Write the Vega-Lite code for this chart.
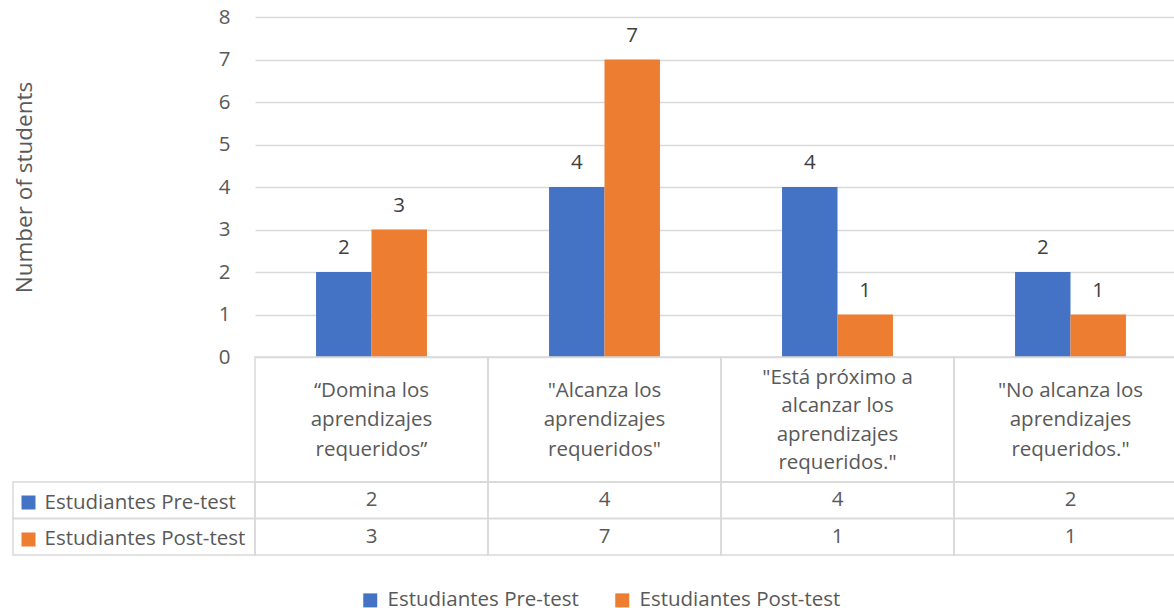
{
  "$schema": "https://vega.github.io/schema/vega-lite/v6.json",
  "padding": {"left": 12, "top": 7, "right": 0, "bottom": 0},
  "background": "white",
  "datasets": {
    "main": [
      {"categoria": "“Domina  los\naprendizajes\nrequeridos”", "serie": "Estudiantes Pre-test", "valor": 2},
      {"categoria": "“Domina  los\naprendizajes\nrequeridos”", "serie": "Estudiantes Post-test", "valor": 3},
      {"categoria": "\"Alcanza  los\naprendizajes\nrequeridos\"", "serie": "Estudiantes Pre-test", "valor": 4},
      {"categoria": "\"Alcanza  los\naprendizajes\nrequeridos\"", "serie": "Estudiantes Post-test", "valor": 7},
      {"categoria": "\"Está próximo a\nalcanzar los\naprendizajes\nrequeridos.\"", "serie": "Estudiantes Pre-test", "valor": 4},
      {"categoria": "\"Está próximo a\nalcanzar los\naprendizajes\nrequeridos.\"", "serie": "Estudiantes Post-test", "valor": 1},
      {"categoria": "\"No alcanza los\naprendizajes\nrequeridos.\"", "serie": "Estudiantes Pre-test", "valor": 2},
      {"categoria": "\"No alcanza los\naprendizajes\nrequeridos.\"", "serie": "Estudiantes Post-test", "valor": 1}
    ]
  },
  "columns": 2,
  "spacing": 0,
  "bounds": "flush",
  "concat": [
    {
      "width": 242, "height": 340,
      "data": {"values": []},
      "mark": {"type": "text", "text": ""},
      "encoding": {}
    },
    {
      "width": 932, "height": 340,
      "data": {"name": "main"},
      "encoding": {
        "x": {"field": "categoria", "type": "nominal", "sort": null, "axis": null,
              "scale": {"paddingInner": 0.524, "paddingOuter": 0.262}},
        "xOffset": {"field": "serie", "type": "nominal", "sort": ["Estudiantes Pre-test", "Estudiantes Post-test"],
                    "scale": {"paddingInner": 0, "paddingOuter": 0}},
        "y": {"field": "valor", "type": "quantitative",
              "scale": {"domain": [0, 8], "nice": false},
              "axis": {"values": [0, 1, 2, 3, 4, 5, 6, 7, 8], "title": "Number of students",
                       "grid": true, "gridColor": "#d9d9d9", "gridWidth": 1.5,
                       "domain": false, "ticks": false, "labelPadding": 25,
                       "labelFontSize": 20.5, "labelColor": "#595959",
                       "titleFontSize": 22.5, "titleColor": "#595959", "titleFontWeight": "normal",
                       "titlePadding": 182}}
      },
      "layer": [
        {
          "mark": {"type": "bar"},
          "encoding": {
            "color": {"field": "serie", "type": "nominal", "sort": ["Estudiantes Pre-test", "Estudiantes Post-test"],
                      "scale": {"range": ["#4472C4", "#ED7D31"]},
                      "legend": {"orient": "bottom", "direction": "horizontal", "title": null,
                                 "symbolType": "square", "symbolSize": 196, "symbolStrokeWidth": 0,
                                 "labelFontSize": 20.5, "labelColor": "#595959", "labelLimit": 0,
                                 "columnPadding": 33, "labelOffset": 7, "offset": 34}}
          }
        },
        {
          "mark": {"type": "text", "baseline": "alphabetic", "dy": -18, "fontSize": 20.5, "color": "#404040"},
          "encoding": {"text": {"field": "valor", "type": "quantitative"}}
        }
      ]
    },
    {
      "width": 242, "height": 125,
      "data": {"values": []},
      "mark": {"type": "text", "text": ""},
      "encoding": {}
    },
    {
      "width": 932, "height": 125,
      "data": {"name": "main"},
      "transform": [{"filter": "datum.serie === 'Estudiantes Pre-test'"}],
      "encoding": {
        "x": {"field": "categoria", "type": "nominal", "sort": null, "axis": null,
              "scale": {"paddingInner": 0, "paddingOuter": 0}}
      },
      "layer": [
        {"mark": {"type": "rect", "filled": false, "stroke": "#d9d9d9", "strokeWidth": 1.5}},
        {
          "transform": [{"filter": "indexof(datum.categoria, 'próximo') < 0"}],
          "mark": {"type": "text", "lineBreak": "\n", "fontSize": 20.5, "lineHeight": 29.5,
                   "color": "#595959", "baseline": "middle", "dy": -29},
          "encoding": {"text": {"field": "categoria", "type": "nominal"}}
        },
        {
          "transform": [{"filter": "indexof(datum.categoria, 'próximo') >= 0"}],
          "mark": {"type": "text", "lineBreak": "\n", "fontSize": 20.5, "lineHeight": 28.5,
                   "color": "#595959", "baseline": "middle", "dy": -42},
          "encoding": {"text": {"field": "categoria", "type": "nominal"}}
        }
      ]
    },
    {
      "width": 242, "height": 73,
      "data": {"name": "main"},
      "transform": [{"aggregate": [{"op": "count", "as": "n"}], "groupby": ["serie"]}],
      "encoding": {
        "y": {"field": "serie", "type": "nominal", "sort": ["Estudiantes Pre-test", "Estudiantes Post-test"],
              "scale": {"paddingInner": 0, "paddingOuter": 0},
              "axis": {"orient": "left", "offset": -22, "title": null, "domain": false, "grid": false,
                       "ticks": true, "tickSize": 14, "tickWidth": 14, "tickOffset": 2,
                       "tickColor": {"condition": {"test": "datum.value === 'Estudiantes Pre-test'", "value": "#4472C4"}, "value": "#ED7D31"},
                       "labelAlign": "left", "labelPadding": -23, "labelFontSize": 20.5,
                       "labelColor": "#595959", "labelLimit": 0}}
      },
      "mark": {"type": "rect", "filled": false, "stroke": "#d9d9d9", "strokeWidth": 1.5}
    },
    {
      "width": 932, "height": 73,
      "data": {"name": "main"},
      "encoding": {
        "x": {"field": "categoria", "type": "nominal", "sort": null, "axis": null,
              "scale": {"paddingInner": 0, "paddingOuter": 0}},
        "y": {"field": "serie", "type": "nominal", "sort": ["Estudiantes Pre-test", "Estudiantes Post-test"], "axis": null,
              "scale": {"paddingInner": 0, "paddingOuter": 0}}
      },
      "layer": [
        {"mark": {"type": "rect", "filled": false, "stroke": "#d9d9d9", "strokeWidth": 1.5}},
        {
          "mark": {"type": "text", "fontSize": 20.5, "color": "#595959", "baseline": "middle"},
          "encoding": {"text": {"field": "valor", "type": "quantitative"}}
        }
      ]
    }
  ],
  "config": {
    "font": "Open Sans",
    "view": {"stroke": null},
    "legend": {"layout": {"bottom": {"anchor": "middle"}}}
  }
}
